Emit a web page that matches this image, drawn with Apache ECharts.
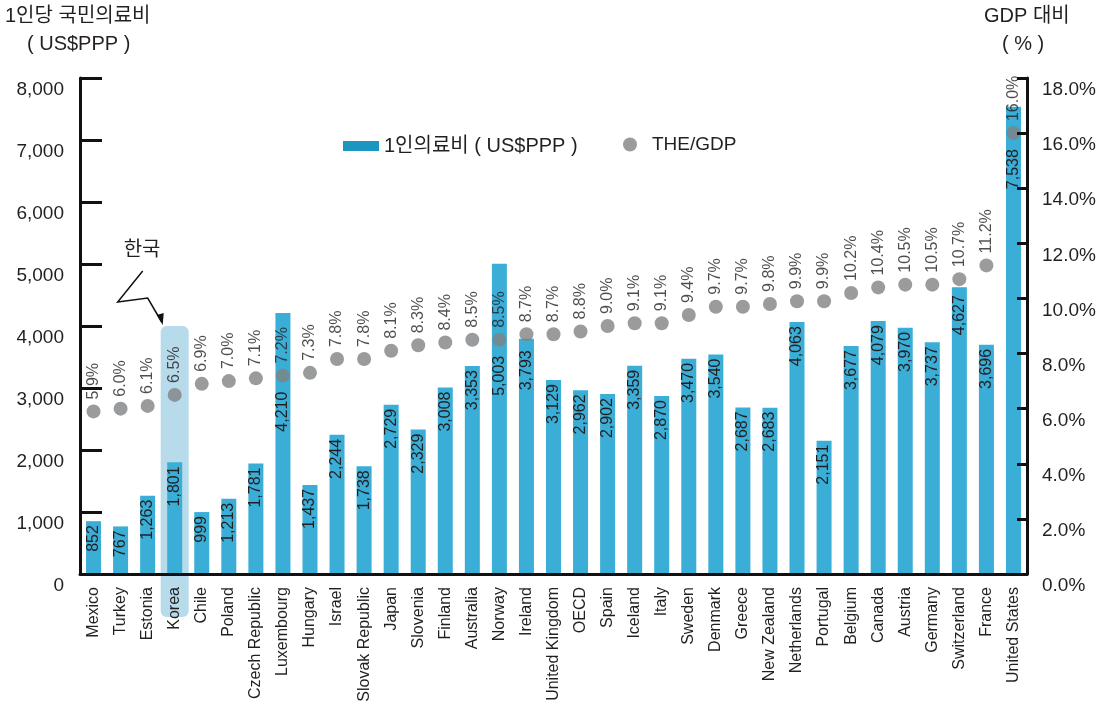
<!DOCTYPE html>
<html><head><meta charset="utf-8">
<script src="https://cdn.jsdelivr.net/npm/echarts@6/dist/echarts.min.js"></script>
<style>html,body{margin:0;padding:0;background:#fff}#c{width:1105px;height:717px}</style>
</head><body><div id="c"></div>
<script>
const categories = ['Mexico','Turkey','Estonia','Korea','Chile','Poland','Czech Republic','Luxembourg','Hungary','Israel','Slovak Republic','Japan','Slovenia','Finland','Australia','Norway','Ireland','United Kingdom','OECD','Spain','Iceland','Italy','Sweden','Denmark','Greece','New Zealand','Netherlands','Portugal','Belgium','Canada','Austria','Germany','Switzerland','France','United States'];
const spending = [852,767,1263,1801,999,1213,1781,4210,1437,2244,1738,2729,2329,3008,3353,5003,3793,3129,2962,2902,3359,2870,3470,3540,2687,2683,4063,2151,3677,4079,3970,3737,4627,3696,7538];
const theGdp = [5.9,6.0,6.1,6.5,6.9,7.0,7.1,7.2,7.3,7.8,7.8,8.1,8.3,8.4,8.5,8.5,8.7,8.7,8.8,9.0,9.1,9.1,9.4,9.7,9.7,9.8,9.9,9.9,10.2,10.4,10.5,10.5,10.7,11.2,16.0];
const leftTitle = ['1인당 국민의료비', '( US$PPP )'];
const rightTitle = ['GDP 대비', '( % )'];
const seriesNames = ['1인의료비 ( US$PPP )', 'THE/GDP'];
const highlightCategory = 'Korea';
const highlightLabel = '한국';

const FONT = "'Liberation Sans', 'Noto Sans CJK KR', sans-serif";
const TXT = '#231f20';
const chart = echarts.init(document.getElementById('c'));
const fmt = v => String(v).replace(/\B(?=(\d{3})+(?!\d))/g, ',');

const barLabel = { show: true, position: 'insideTop', distance: 4, rotate: 90, align: 'right', verticalAlign: 'middle',
  fontSize: 16, color: TXT, fontFamily: FONT, formatter: p => fmt(p.value) };

chart.setOption({
  animation: false,
  textStyle: { fontFamily: FONT, color: TXT },
  grid: { left: 80, right: 78, top: 78, bottom: 143, containLabel: false },
  legend: [
    { left: 338, top: 131, itemWidth: 36, itemHeight: 10, itemGap: 10,
      textStyle: { fontSize: 20, color: TXT, fontFamily: FONT },
      data: [{ name: seriesNames[0], icon: 'rect', itemStyle: { color: '#1a96c0' } }] },
    { left: 618, top: 130, itemWidth: 14, itemHeight: 14,
      textStyle: { fontSize: 19, color: TXT, fontFamily: FONT, padding: [0,0,0,10] },
      data: [{ name: seriesNames[1], icon: 'circle' }] }
  ],
  xAxis: {
    type: 'category', data: categories, boundaryGap: true, z: 5,
    axisLine: { lineStyle: { color: '#111', width: 3 } },
    axisTick: { show: false },
    axisLabel: { rotate: 90, fontSize: 16, color: TXT, margin: 13, interval: 0, fontFamily: FONT }
  },
  yAxis: [
    { type: 'value', min: 0, max: 8000, interval: 1000, position: 'left', z: 5,
      axisLine: { show: true, lineStyle: { color: '#111', width: 3 } },
      axisTick: { show: true, inside: true, length: 22, lineStyle: { color: '#111', width: 3 } },
      splitLine: { show: false },
      axisLabel: { fontSize: 19, color: TXT, margin: 16, verticalAlign: 'top', lineHeight: 24, formatter: v => fmt(v), fontFamily: FONT } },
    { type: 'value', min: 0, max: 18, interval: 2, position: 'right', z: 5,
      axisLine: { show: true, lineStyle: { color: '#111', width: 3 } },
      axisTick: { show: true, inside: true, length: 10, lineStyle: { color: '#111', width: 3 } },
      splitLine: { show: false },
      axisLabel: { fontSize: 19, color: TXT, margin: 15, verticalAlign: 'top', lineHeight: 24, formatter: v => v.toFixed(1) + '%', fontFamily: FONT } }
  ],
  series: [
    { name: seriesNames[0], type: 'bar', data: spending, barWidth: 15, yAxisIndex: 0,
      itemStyle: { color: '#3aaed6' }, z: 3, label: barLabel },
    { name: seriesNames[1], type: 'scatter', data: theGdp, yAxisIndex: 1, symbolSize: 14,
      itemStyle: { color: '#808285' }, z: 4,
      label: { show: true, position: 'top', distance: 5, rotate: 90, align: 'left', verticalAlign: 'middle',
        fontSize: 16, color: TXT, fontFamily: FONT, formatter: p => p.value.toFixed(1) + '%' } }
  ]
});

// bar labels pushed below the dot when the dot sits inside/near the bar top
const barData = spending.map((v, i) => {
  const barTop = chart.convertToPixel({ xAxisIndex: 0, yAxisIndex: 0 }, [i, v])[1];
  const dotY = chart.convertToPixel({ xAxisIndex: 0, yAxisIndex: 1 }, [i, theGdp[i]])[1];
  if (dotY > barTop - 8) {
    return { value: v, label: { distance: dotY - barTop + 16 } };
  }
  return v;
});

const p = chart.convertToPixel({ xAxisIndex: 0, yAxisIndex: 0 }, [highlightCategory, 4000]);
const bottomPx = chart.convertToPixel({ xAxisIndex: 0, yAxisIndex: 0 }, [highlightCategory, 0])[1];
const cx = p[0], topY = p[1];
chart.setOption({
  series: [{ data: barData }, {}],
  graphic: [
    { type: 'text', left: 5, top: 6, style: { text: leftTitle[0], fontSize: 20, fill: TXT, fontFamily: FONT } },
    { type: 'text', left: 27, top: 34, style: { text: leftTitle[1], fontSize: 20, fill: TXT, fontFamily: FONT } },
    { type: 'text', left: 984, top: 6, style: { text: rightTitle[0], fontSize: 20, fill: TXT, fontFamily: FONT } },
    { type: 'text', left: 1002, top: 34, style: { text: rightTitle[1], fontSize: 20, fill: TXT, fontFamily: FONT } },
    { type: 'rect', z: -1, shape: { x: cx - 14, y: topY, width: 28, height: bottomPx - topY + 43, r: 6 },
      style: { fill: '#b7dbea' } },
    { type: 'polyline', z: 10, shape: { points: [[cx - 32, topY - 55], [cx - 57, topY - 24], [cx - 27, topY - 28], [cx - 13, topY - 4]] },
      style: { stroke: '#111', lineWidth: 1.5, fill: null } },
    { type: 'polygon', z: 10, shape: { points: [[cx - 12, topY - 1], [cx - 18, topY - 11], [cx - 11, topY - 13]] },
      style: { fill: '#111' } },
    { type: 'text', z: 10, x: cx - 51, y: topY - 86, style: { text: highlightLabel, fontSize: 20, fill: TXT, fontFamily: FONT } }
  ]
});
</script></body></html>
